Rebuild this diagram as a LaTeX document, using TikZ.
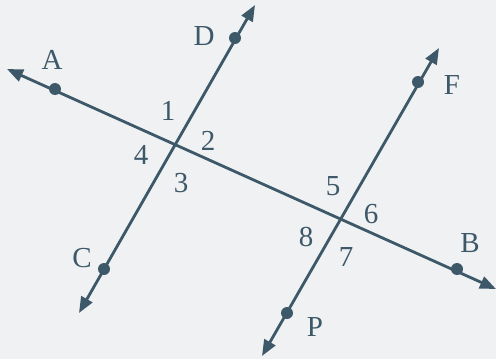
\documentclass[tikz,border=0pt]{standalone}
\usepackage{fontspec}
\setmainfont{Liberation Serif}
\usetikzlibrary{arrows.meta}
\definecolor{ink}{HTML}{3D5868}
\definecolor{bg}{HTML}{F0F1F3}
\begin{document}
\begin{tikzpicture}[x=1pt,y=-1pt,
  ln/.style={draw=ink,line width=2.8pt,{Triangle[length=16pt,width=12.5pt]}-{Triangle[length=16pt,width=12.5pt]}},
  pt/.style={circle,fill=ink,inner sep=0pt,minimum size=12pt},
  lbl/.style={text=ink,font=\fontsize{29}{29}\selectfont,inner sep=0pt}]
\fill[bg] (0,0) rectangle (496,359);
\useasboundingbox (0,0) rectangle (496,359);
% arrow tips
\coordinate (tA) at (7,69);
\coordinate (tB) at (496,289);
\coordinate (tD) at (255,5);
\coordinate (tC) at (79,313);
\coordinate (tF) at (439,48);
\coordinate (tP) at (262,356);
\draw[ln] (tA) -- (tB);
\draw[ln] (tC) -- (tD);
\draw[ln] (tP) -- (tF);
% points
\node[pt] (A) at (55,89) {};
\node[pt] (B) at (457,269) {};
\node[pt] (D) at (235,38) {};
\node[pt] (C) at (104,269) {};
\node[pt] (F) at (418,82) {};
\node[pt] (P) at (287,313) {};
% letters
\node[lbl] (lA) at (52,60) {A};
\node[lbl] (lD) at (204,36) {D};
\node[lbl] (lF) at (452,85) {F};
\node[lbl] (lB) at (470,243) {B};
\node[lbl] (lC) at (82,258) {C};
\node[lbl] (lP) at (315,327) {P};
% angle numbers
\node[lbl] (n1) at (168,111) {1};
\node[lbl] (n2) at (208,141) {2};
\node[lbl] (n3) at (181,183) {3};
\node[lbl] (n4) at (141,155) {4};
\node[lbl] (n5) at (333,186) {5};
\node[lbl] (n6) at (371,214) {6};
\node[lbl] (n7) at (346,257) {7};
\node[lbl] (n8) at (306,237) {8};
\end{tikzpicture}
\end{document}
